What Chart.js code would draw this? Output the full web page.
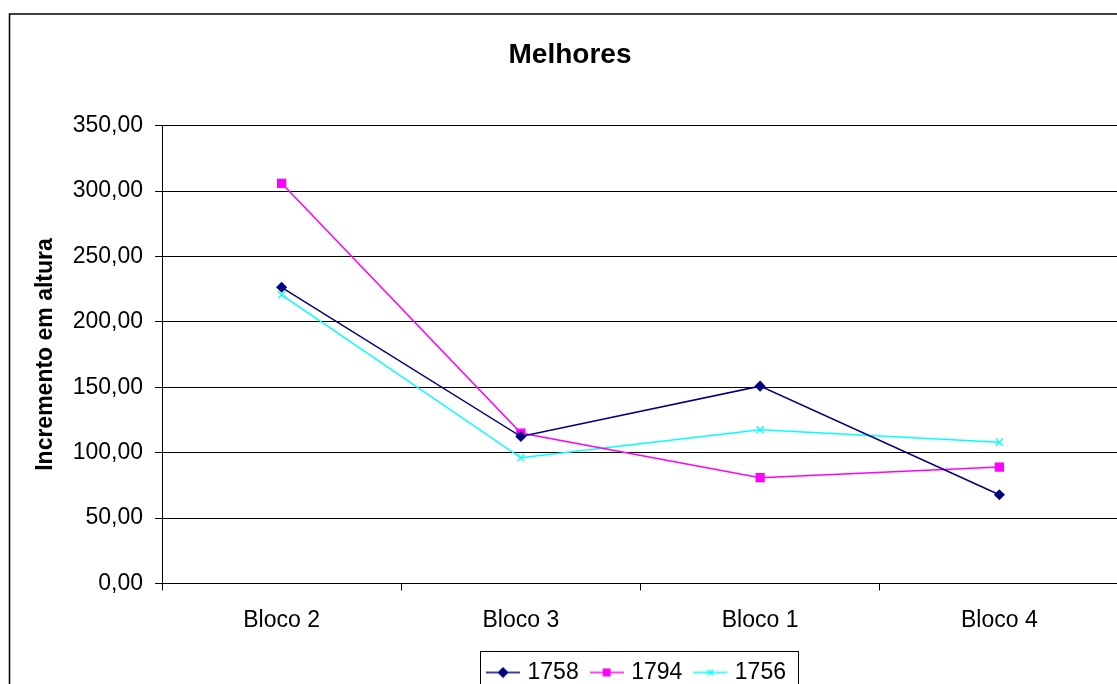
<!DOCTYPE html>
<html>
<head>
<meta charset="utf-8">
<script src="https://cdn.jsdelivr.net/npm/chart.js@4/dist/chart.umd.min.js"></script>
<style>
  html, body { margin: 0; padding: 0; background: #fff; overflow: hidden; }
  #wrap { position: absolute; left: 0; top: 0; width: 1140px; height: 694px; }
</style>
</head>
<body>
<div id="wrap"><canvas id="myChart"></canvas></div>
<script>
const categories = ['Bloco 2', 'Bloco 3', 'Bloco 1', 'Bloco 4'];
const values1758 = [226.4, 112.3, 150.8, 67.8];
const values1794 = [305.9, 114.9, 80.8, 88.9];
const values1756 = [220.6, 96.0, 117.4, 108.0];
const yTicks = [0, 50, 100, 150, 200, 250, 300, 350];

const FONT = 'Arial, "Liberation Sans", sans-serif';

// little line+marker icons for the legend, like Excel draws them
function makeIcon(color, style) {
  const c = document.createElement('canvas');
  c.width = 34;
  c.height = 12;
  const g = c.getContext('2d');
  g.strokeStyle = color;
  g.fillStyle = color;
  g.lineWidth = 1.5;
  g.beginPath();
  g.moveTo(0, 6);
  g.lineTo(34, 6);
  g.stroke();
  Chart.helpers.drawPoint(g, { pointStyle: style, radius: style === 'crossRot' ? 4 : 4.5, borderWidth: 1.3 }, 17, 6);
  if (style !== 'crossRot') g.fill();
  return c;
}

const frame = {
  id: 'frame',
  afterLayout(chart) {
    // Excel puts the legend a bit right of centre
    chart.legend.left += 68;
    chart.legend.right += 68;
  },
  afterDraw(chart) {
    const ctx = chart.ctx;
    ctx.save();
    ctx.strokeStyle = '#000';
    ctx.lineWidth = 1.5;
    ctx.strokeRect(9.5, 14, chart.width - 19, 800);
    const boxes = chart.legend.legendHitBoxes;
    if (boxes && boxes.length) {
      const first = boxes[0];
      const last = boxes[boxes.length - 1];
      const cy = first.top + first.height / 2;
      ctx.lineWidth = 1;
      ctx.strokeRect(Math.round(first.left) - 9.5, Math.round(cy) - 21.5, last.left + last.width - first.left + 22, 100);
    }
    ctx.restore();
  }
};

const icons = [
  makeIcon('#000080', 'rectRot'),
  makeIcon('#FF00FF', 'rect'),
  makeIcon('#00FFFF', 'crossRot')
];

const ctx = document.getElementById('myChart').getContext('2d');
const chart = new Chart(ctx, {
  type: 'line',
  data: {
    labels: categories,
    datasets: [
      {
        label: '1758',
        data: values1758,
        borderColor: '#000080',
        backgroundColor: '#000080',
        borderWidth: 1.5,
        pointStyle: 'rectRot',
        pointRadius: 4.5,
        tension: 0
      },
      {
        label: '1794',
        data: values1794,
        borderColor: '#FF00FF',
        backgroundColor: '#FF00FF',
        borderWidth: 1.5,
        pointStyle: 'rect',
        pointRadius: 5.5,
        tension: 0
      },
      {
        label: '1756',
        data: values1756,
        borderColor: '#00FFFF',
        backgroundColor: '#00FFFF',
        borderWidth: 1.5,
        pointStyle: 'crossRot',
        pointRadius: 5,
        pointBorderWidth: 1.3,
        tension: 0
      }
    ]
  },
  options: {
    responsive: true,
    maintainAspectRatio: false,
    animation: false,
    layout: { padding: { left: 21, right: 21, top: 0, bottom: 0 } },
    scales: {
      x: {
        offset: true,
        afterFit(scale) { scale.height -= 4; },
        grid: { offset: true, drawOnChartArea: false, color: '#000', tickLength: 7 },
        border: { color: '#000', width: 1 },
        ticks: { color: '#000', padding: 16, font: { family: FONT, size: 23 } }
      },
      y: {
        min: 0,
        max: 350,
        afterFit(scale) { scale.width = 141; },
        afterBuildTicks(scale) { scale.ticks = yTicks.map(v => ({ value: v })); },
        grid: { color: '#000', lineWidth: 1, tickLength: 7 },
        border: { color: '#000', width: 1 },
        ticks: {
          color: '#000',
          padding: 12,
          font: { family: FONT, size: 23 },
          callback: v => v.toFixed(2).replace('.', ',')
        },
        title: {
          display: true,
          text: 'Incremento em altura',
          color: '#000',
          padding: { top: 11, bottom: 0 },
          font: { family: FONT, size: 23, weight: 'bold' }
        }
      }
    },
    plugins: {
      title: {
        display: true,
        text: 'Melhores',
        color: '#000',
        padding: { top: 38, bottom: 54 },
        font: { family: FONT, size: 28, weight: 'bold' }
      },
      legend: {
        position: 'bottom',
        labels: {
          color: '#000',
          font: { family: FONT, size: 23 },
          usePointStyle: true,
          pointStyleWidth: 26,
          padding: 15,
          generateLabels(chart) {
            const items = Chart.defaults.plugins.legend.labels.generateLabels(chart);
            return items.map((item, i) => Object.assign(item, { pointStyle: icons[i], rotation: 0 }));
          }
        }
      },
      tooltip: { enabled: false }
    }
  },
  plugins: [frame]
});
</script>
</body>
</html>
